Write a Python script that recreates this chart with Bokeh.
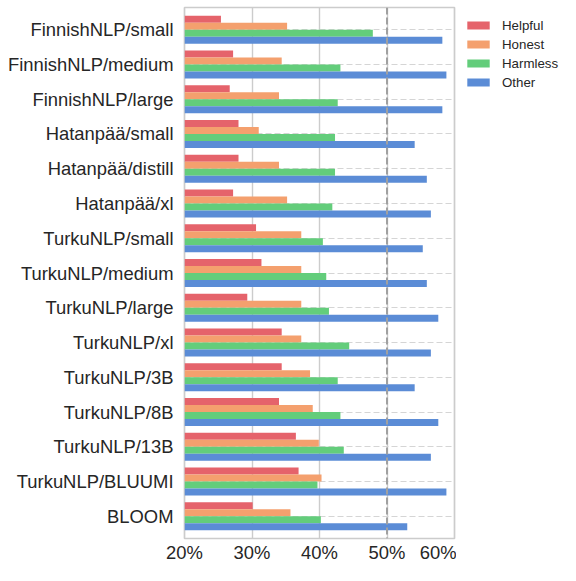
from bokeh.plotting import figure
from bokeh.models import (Range1d, FixedTicker, PrintfTickFormatter, Span,
                          ColumnDataSource, Legend, LegendItem)
from bokeh.transform import dodge
from bokeh.layouts import row
from bokeh.embed import file_html
from bokeh.resources import INLINE

models = ["FinnishNLP/small", "FinnishNLP/medium", "FinnishNLP/large",
          "Hatanpää/small", "Hatanpää/distill", "Hatanpää/xl",
          "TurkuNLP/small", "TurkuNLP/medium", "TurkuNLP/large", "TurkuNLP/xl",
          "TurkuNLP/3B", "TurkuNLP/8B", "TurkuNLP/13B", "TurkuNLP/BLUUMI", "BLOOM"]
helpful = [25.4, 27.2, 26.7, 28.0, 28.0, 27.2, 30.6, 31.4, 29.3, 34.4, 34.4, 34.0, 36.5, 36.9, 30.1]
honest = [35.2, 34.4, 34.0, 31.0, 34.0, 35.2, 37.3, 37.3, 37.3, 37.3, 38.6, 39.0, 39.9, 40.3, 35.7]
harmless = [47.9, 43.1, 42.7, 42.3, 42.3, 41.9, 40.5, 41.0, 41.4, 44.4, 42.7, 43.1, 43.6, 39.7, 40.2]
other = [58.2, 58.8, 58.2, 54.1, 55.9, 56.5, 55.3, 55.9, 57.6, 56.5, 54.1, 57.6, 56.5, 58.8, 53.0]
series_names = ["Helpful", "Honest", "Harmless", "Other"]
series_colors = ["#e5636b", "#f4a06e", "#63cd7b", "#5b8cd6"]
x_ticks = [20, 30, 40, 50, 60]

pos = list(range(len(models)))
src = ColumnDataSource(dict(y=pos, Helpful=helpful, Honest=honest, Harmless=harmless, Other=other))

H = 565
PW, LW = 456, 104
BL, BR, BT, BB = 184, 2, 7, 25

p = figure(width=PW, height=H, output_backend="svg", toolbar_location=None,
           x_range=Range1d(20, 60), y_range=Range1d(len(models) - 0.36, -0.64),
           min_border_left=BL, min_border_right=BR, min_border_top=BT, min_border_bottom=BB)

p.outline_line_color = "#cccccc"
p.outline_line_width = 1.7
p.background_fill_color = "white"

offsets = [-0.3, -0.1, 0.1, 0.3]
for name, col, off in zip(series_names, series_colors, offsets):
    p.hbar(y=dodge("y", off, range=p.y_range), right=name, left=0, height=0.2,
           source=src, fill_color=col, line_color=None)

p.add_layout(Span(location=50, dimension="height", line_color="#a0a0a0",
                  line_width=2, line_dash="7 3", level="overlay"))

# axes
p.xaxis.ticker = FixedTicker(ticks=x_ticks)
p.xaxis.formatter = PrintfTickFormatter(format="%d%%")
p.yaxis.ticker = FixedTicker(ticks=pos)
p.yaxis.major_label_overrides = {i: m for i, m in zip(pos, models)}
for ax in (p.xaxis[0], p.yaxis[0]):
    ax.axis_line_color = None
    ax.major_tick_line_color = None
    ax.minor_tick_line_color = None
    ax.major_tick_out = 0
    ax.major_tick_in = 0
    ax.major_label_text_font = "Liberation Sans"
    ax.major_label_text_font_size = "18.4px"
    ax.major_label_text_color = "#262626"
p.yaxis.major_label_standoff = 11
p.xaxis.major_label_standoff = 3

p.xgrid.grid_line_color = "#cccccc"
p.xgrid.grid_line_width = 1.4
p.ygrid.grid_line_color = "#d5d5d5"
p.ygrid.grid_line_width = 1.2
p.ygrid.grid_line_dash = "6 3"

# legend panel: same bars, but with a view range that shows none of them
lf = figure(width=LW, height=H, output_backend="svg", toolbar_location=None,
            x_range=Range1d(-2, -1), y_range=Range1d(0, 1),
            x_axis_type=None, y_axis_type=None,
            min_border_left=0, min_border_right=0, min_border_top=0, min_border_bottom=0)
lf.outline_line_color = None
lf.xgrid.visible = False
lf.ygrid.visible = False
items = []
for name, col in zip(series_names, series_colors):
    r = lf.hbar(y="y", right=name, left=0, height=0.2, source=src,
                fill_color=col, line_color=None)
    items.append(LegendItem(label=name, renderers=[r]))

pad = 8
lg = Legend(items=items)
lg.padding = pad
lg.margin = 0
lg.spacing = 0
lg.border_line_color = None
lg.background_fill_alpha = 0
lg.glyph_width = 28
lg.glyph_height = 10
lg.label_height = 19
lg.label_standoff = 10
lg.label_text_font = "Liberation Sans"
lg.label_text_font_size = "13.3px"
lg.label_text_color = "#262626"
lg.location = (8, H - 7.5 - (2 * pad + 4 * 19) - 19)
lf.add_layout(lg)

layout = row(p, lf, spacing=0)
open("out.html", "w").write(file_html(layout, INLINE))
